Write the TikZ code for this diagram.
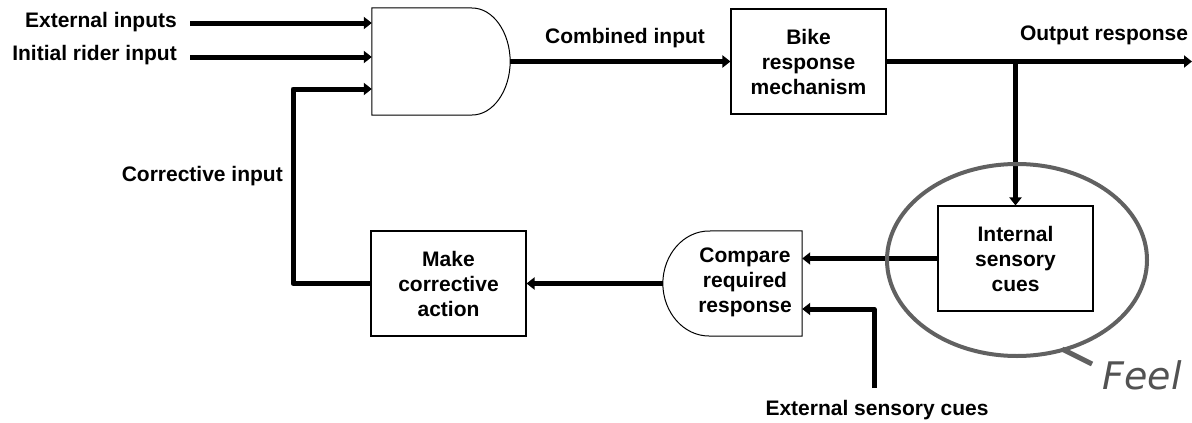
\documentclass[tikz,border=0pt]{standalone}
\usepackage{fontspec}
\setmainfont{Liberation Sans}
\newfontfamily\feelfont{DejaVu Sans}
\usetikzlibrary{arrows.meta}
\begin{document}
\begin{tikzpicture}[x=1pt,y=-1pt,
  lbl/.style={font=\fontsize{21}{25}\selectfont\bfseries, inner sep=0pt, align=center},
  box/.style={draw, line width=1.1pt, fill=white, inner sep=0pt,
              minimum width=155pt, minimum height=105pt, lbl},
  outline/.style={draw, line width=1pt, fill=white},
  flow/.style={line width=5pt, line join=round, -{Triangle[length=8pt,width=12pt]}},
  lens/.style={draw=black!62, line width=4pt},
  ghost/.style={inner sep=0pt, minimum width=#1}]
\useasboundingbox (0,0) rectangle (1192,423);

% blocks
\node[ghost=138pt, minimum height=107pt] (gate) at (441,61.5) {};
\node[box] (bike) at (808.5,61.5) {Bike\\response\\mechanism};
\node[box] (make) at (448.5,283.5) {Make\\corrective\\action};
\node[box] (internal) at (1015.5,258.5) {Internal\\sensory\\cues};
\node[ghost=139pt, minimum height=105pt] (cmp) at (732.5,283.5) {};

% summing gate (flat left, round right)
\draw[outline] (gate.north west) -- (472,8) .. controls (493,8) and (510,32) .. (gate.east)
  .. controls (510,91) and (493,115) .. (472,115) -- (gate.south west) -- cycle;
% comparator (round left, flat right)
\draw[outline] (cmp.north east) -- (709,231) .. controls (683.6,231) and (663,254.5) .. (cmp.west)
  .. controls (663,312.5) and (683.6,336) .. (709,336) -- (cmp.south east) -- cycle;
\node[lbl] (cmptext) at (745,282) {Compare\\required\\response};

% labels
\node[lbl, anchor=east] (extlbl) at (177,22) {External inputs};
\node[lbl, anchor=east] (riderlbl) at (177,55) {Initial rider input};
\node[lbl] (comblbl) at (625,38) {Combined input};
\node[lbl] (outlbl) at (1104,35) {Output response};
\node[lbl, anchor=east] (corrlbl) at (283,176) {Corrective input};
\node[lbl] (xslbl) at (877,410) {External sensory cues};

% connector end points
\coordinate (ein) at (190,23);
\coordinate (rin) at (190,57);
\coordinate (cin) at (293,89);
\coordinate (out) at (1192,61.5);
\coordinate (tap) at (internal.north |- bike.east);
\coordinate (xs) at (874,388);
\coordinate (xsb) at (874,309);

% connectors
\draw[flow] (ein) -- (ein -| gate.west);
\draw[flow] (rin) -- (rin -| gate.west);
\draw[flow] (gate.east) -- (bike.west);
\draw[flow] (bike.east) -- (out);
\draw[flow] (tap) -- (internal.north);
\draw[flow] (internal.west) -- (internal.west -| cmp.east);
\draw[flow] (xs) -- (xsb) -- (xsb -| cmp.east);
\draw[flow] (cmp.west) -- (make.east);
\draw[flow] (make.west) -| (cin) -- (cin -| gate.west);

% magnifier ring
\draw[lens] (1017,260) ellipse [x radius=130pt, y radius=96pt];
\coordinate (h1) at (1062,349);
\coordinate (h2) at (1092,364);
\draw[lens, line width=5pt] (h1) -- (h2);
\node[font=\feelfont\itshape\fontsize{38}{40}\selectfont, text=black!68, inner sep=0pt] (feel) at (1142,375) {Feel};
\end{tikzpicture}
\end{document}
